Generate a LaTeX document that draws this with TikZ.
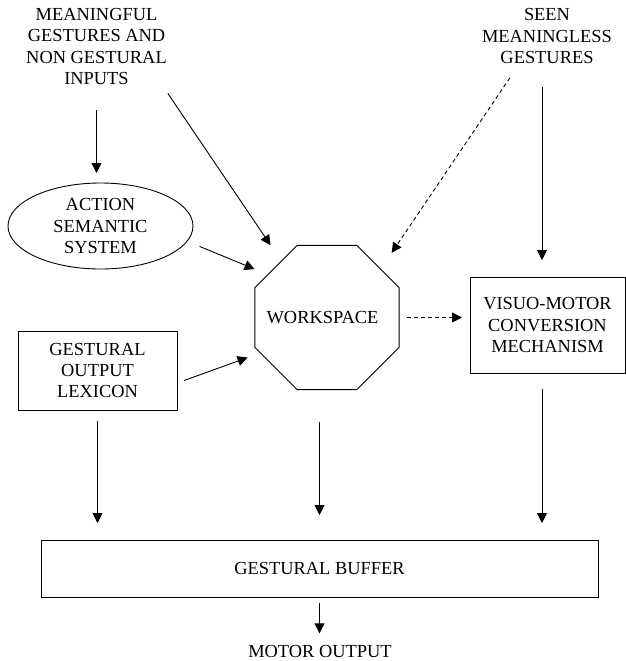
\documentclass[tikz,border=0pt]{standalone}
\usepackage{fontspec}
\setmainfont{Liberation Serif}
\usetikzlibrary{shapes.geometric,arrows.meta}

\begin{document}
\begin{tikzpicture}[x=1pt, y=-1pt, line width=0.9pt,
  >={Triangle[length=10pt,width=10pt]},
  every node/.style={font=\fontsize{18.4}{21.2}\selectfont, inner sep=0pt, outer sep=0pt, align=center},
  box/.style={draw, shape=rectangle},
  dashline/.style={dash pattern=on 4pt off 3pt}]
\useasboundingbox (0,0) rectangle (626,661);

%%%%%%%%%%%%%%%%%%%%%%%%%%%%%%%%%%%%%%%%%%% inputs
\node (inputs) at (96.5,46.5) {MEANINGFUL\\GESTURES AND\\NON GESTURAL\\INPUTS};
\node (seen) at (547,36) {SEEN\\MEANINGLESS\\GESTURES};

%%%%%%%%%%%%%%%%%%%%%%%%%%%%%%%%%%%%%%%%%%% elements
\node[draw, ellipse, minimum width=185pt, minimum height=86pt] (semantic) at (100.5,226) {ACTION\\SEMANTIC\\SYSTEM};
\node[box, minimum width=159pt, minimum height=79pt] (lexicon) at (97.5,370.5) {GESTURAL\\OUTPUT\\LEXICON};
\node[draw, regular polygon, regular polygon sides=8, minimum size=156pt,
      label={[xshift=-4.5pt]center:WORKSPACE}] (workspace) at (327,317.5) {};
\node[box, minimum width=155pt, minimum height=96pt] (visuo) at (547.5,325) {VISUO-MOTOR\\CONVERSION\\MECHANISM};
\node[box, minimum width=557pt, minimum height=57pt] (buffer) at (319.5,568.5) {GESTURAL BUFFER};
\node (motor) at (320,651.5) {MOTOR OUTPUT};

\coordinate (vtop) at ([xshift=-5.5pt]visuo.north);
\coordinate (vbot) at ([xshift=-5.5pt]visuo.south);

%%%%% arrows
\draw[->, shorten <=26pt, shorten >=10pt] (inputs.south) -- (inputs.south |- semantic.north);
\draw[->, shorten <=10.9pt, shorten >=19.4pt] ([xshift=-5pt]inputs.south east) -- (workspace.129);
\draw[->, shorten <=13.6pt, shorten >=14.5pt] (semantic.350) -- (workspace.144);
\draw[->, shorten <=7.4pt, shorten >=13.7pt] (lexicon.351) -- (workspace.208);
\draw[->, dashline, shorten <=17.5pt, shorten >=19.8pt] (seen.225) -- (workspace.42);
\draw[->, shorten <=23.5pt, shorten >=17pt] (vtop |- seen.south) -- (vtop);
\draw[->, dashline, shorten <=8pt, shorten >=8pt] (workspace.east) -- (workspace.east -| visuo.west);

%%%%% into the buffer
\draw[->, shorten <=11pt, shorten >=17pt] (lexicon.south) -- (lexicon.south |- buffer.north);
\draw[->, shorten <=32pt, shorten >=25pt] (buffer.north |- workspace.south) -- (buffer.north);
\draw[->, shorten <=16pt, shorten >=17pt] (vbot) -- (vbot |- buffer.north);
\draw[->, shorten <=6pt, shorten >=12pt] (buffer.south) -- (buffer.south |- motor.north);

\end{tikzpicture}
\end{document}
